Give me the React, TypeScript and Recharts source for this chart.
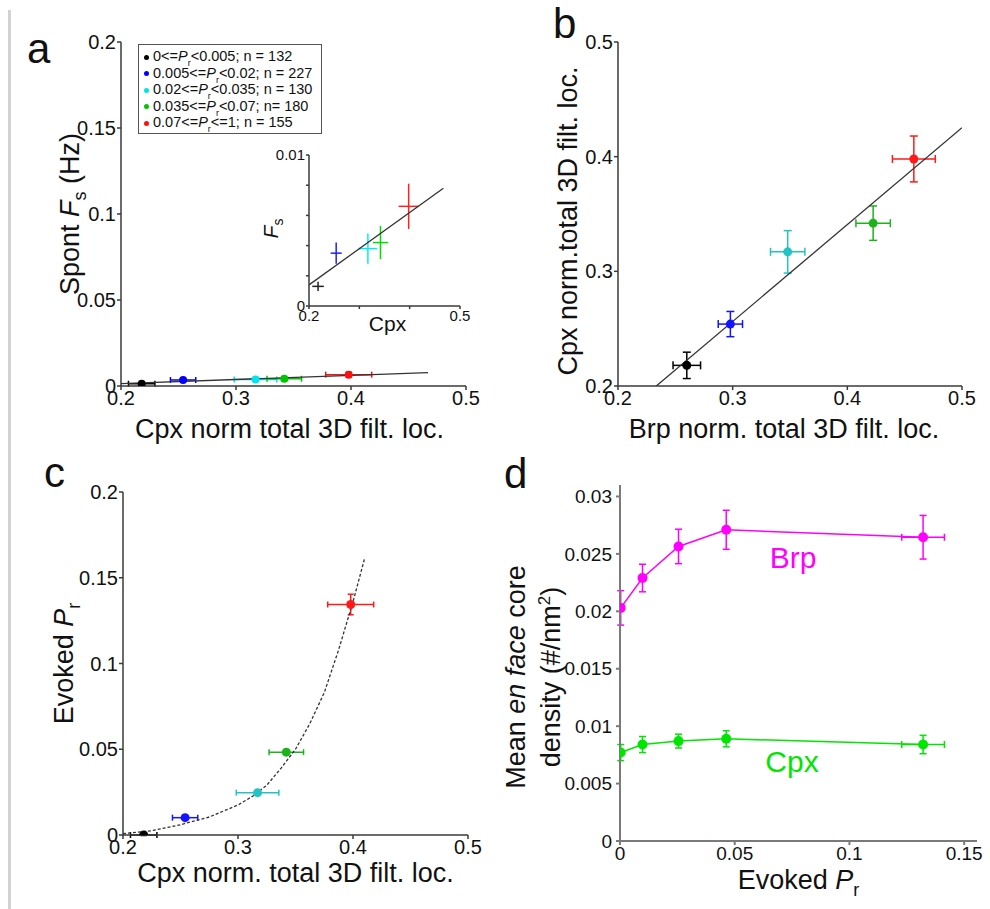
import React from 'react';
import { ScatterChart, Scatter, XAxis, YAxis, ErrorBar, Legend } from 'recharts';

const FONT = '"Liberation Sans", Arial, Helvetica, sans-serif';

// release-probability bins (legend of panel a): text before and after "Pr"
const binLabels = [
  ['0<=', '<0.005; n = 132'],
  ['0.005<=', '<0.02; n = 227'],
  ['0.02<=', '<0.035; n = 130'],
  ['0.035<=', '<0.07; n= 180'],
  ['0.07<=', '<=1; n = 155'],
];

// Cpx / Brp normalised total 3D filtered localisations, per bin
const cpxLoc = [0.218, 0.254, 0.317, 0.342, 0.398];
const cpxLocErr = [0.0115, 0.011, 0.0185, 0.015, 0.02];
const brpLoc = [0.26, 0.298, 0.348, 0.4225, 0.458];
const brpLocErr = [0.012, 0.0106, 0.015, 0.015, 0.0187];

// spontaneous frequency Fs (Hz) and evoked Pr, per bin
const spontFs = [0.0013, 0.0035, 0.0038, 0.0042, 0.0066];
const spontFsErr = [0.0003, 0.0007, 0.001, 0.0011, 0.0015];
const evokedPr = [0.0, 0.0101, 0.0247, 0.0483, 0.1344];
const evokedPrErr = [0.0003, 0.0008, 0.001, 0.0015, 0.006];

// fitted lines
const fsFitX = [0.2, 0.467];
const fsFitY = [0.0014, 0.0078];
const locFitX = [0.2334, 0.5];
const locFitY = [0.2, 0.4253];
const prFitX = [0.2, 0.225, 0.25, 0.275, 0.3, 0.3125, 0.325, 0.3375, 0.35, 0.3625, 0.375, 0.3875, 0.4, 0.41];
const prFitY = [0.0008, 0.0025, 0.006, 0.0105, 0.0175, 0.0225, 0.029, 0.039, 0.05, 0.065, 0.083, 0.108, 0.136, 0.161];

// panel d: en face core density vs evoked Pr
const prBins = [0.0003, 0.0098, 0.0255, 0.0463, 0.1321];
const prBinsErr = [0.0004, 0.0006, 0.0008, 0.001, 0.0093];
const brpDensity = [0.0203, 0.0229, 0.02565, 0.0271, 0.02645];
const brpDensityErr = [0.0015, 0.0012, 0.0015, 0.0017, 0.0019];
const cpxDensity = [0.0077, 0.0084, 0.0087, 0.0089, 0.0084];
const cpxDensityErr = [0.0007, 0.0007, 0.0006, 0.0007, 0.0008];

const colorsA = ['#000000', '#0000ff', '#00e4ec', '#00c400', '#ff1010'];
const colorsBC = ['#000000', '#1414ff', '#22c3c3', '#1db31d', '#ff1a1a'];
const colorsInset = ['#222222', '#2020ff', '#00eef2', '#00dd00', '#ff2020'];
const BRP = '#ff00ff';
const CPX = '#00e600';

const pts = (xs: number[], ys: number[], exs?: number[], eys?: number[]) =>
  xs.map((x, i) => ({ x, y: ys[i], ex: exs ? exs[i] : 0, ey: eys ? eys[i] : 0 }));

const dot = (r: number, fill: string) => (p: any) => <circle cx={p.cx} cy={p.cy} r={r} fill={fill} />;
const noDot = () => <g />;

const tick = (size: number) => ({ fontSize: size, fill: '#111', fontFamily: FONT });
const axisA = { stroke: '#3a3a3a', strokeWidth: 1.5 };
const axisD = { stroke: '#7a7a7a', strokeWidth: 2 };

const TITLE = 27;

// horizontal axis title, baseline dy below the axis
const xTitle = (dy: number, body: React.ReactNode, dx = 0) => (props: any) => {
  const vb = props.viewBox || {};
  return (
    <text x={vb.x + vb.width / 2 + dx} y={vb.y + dy} textAnchor="middle" fontSize={TITLE} fontFamily={FONT} fill="#111">
      {body}
    </text>
  );
};

// vertical axis title(s), baseline(s) at bx from the axis area left edge
const yTitle = (bx: number[], lines: React.ReactNode[], dy = 0, size = TITLE) => (props: any) => {
  const vb = props.viewBox || {};
  const cy = vb.y + vb.height / 2 + dy;
  return (
    <g>
      {lines.map((l, i) => {
        const x = vb.x + bx[i];
        return (
          <text key={i} x={x} y={cy} transform={`rotate(-90 ${x} ${cy})`} textAnchor="middle" fontSize={size} fontFamily={FONT} fill="#111">
            {l}
          </text>
        );
      })}
    </g>
  );
};

const LegendBox = () => (
  <div
    style={{
      border: '1.5px solid #555',
      background: '#fff',
      fontFamily: FONT,
      fontSize: 14.5,
      color: '#111',
      padding: '3px 0 3px 5px',
      boxSizing: 'border-box',
      height: 90,
    }}
  >
    {binLabels.map((b, i) => (
      <div key={i} style={{ height: 16.6, lineHeight: '16.6px', whiteSpace: 'nowrap' }}>
        <span style={{ display: 'inline-block', width: 5, height: 5, borderRadius: 3, background: colorsA[i], marginRight: 4, verticalAlign: 'middle' }} />
        {b[0]}
        <i>P</i>
        <span style={{ fontSize: 9, position: 'relative', top: 5 }}>r</span>
        {b[1]}
      </div>
    ))}
  </div>
);

const PanelA = () => (
  <div style={{ position: 'absolute', left: 0, top: 0 }}>
    <ScatterChart width={490} height={445} margin={{ top: 42, right: 24, bottom: 0, left: 0 }}>
      <XAxis type="number" dataKey="x" domain={[0.2, 0.5]} ticks={[0.2, 0.3, 0.4, 0.5]} allowDataOverflow interval={0}
        height={59} tick={tick(20)} tickSize={4} tickMargin={1} axisLine={axisA} tickLine={axisA}
        label={{ content: xTitle(52, 'Cpx norm total 3D filt. loc.', -4) }} />
      <YAxis type="number" dataKey="y" domain={[0, 0.2]} ticks={[0, 0.05, 0.1, 0.15, 0.2]} allowDataOverflow interval={0}
        width={121} tick={tick(20)} tickSize={4} tickMargin={1} axisLine={axisA} tickLine={axisA}
        label={{ content: yTitle([79], [<><tspan>Spont </tspan><tspan fontStyle="italic">F</tspan><tspan dy={7} fontSize={18}>s</tspan><tspan dy={-7}> (Hz)</tspan></>]) }} />
      <Scatter data={pts(fsFitX, fsFitY)} line={{ stroke: '#333', strokeWidth: 1.3 }} shape={noDot} isAnimationActive={false} />
      {cpxLoc.map((_, i) => (
        <Scatter key={i} data={[pts(cpxLoc, spontFs, cpxLocErr, spontFsErr)[i]]} shape={dot(4, colorsA[i])} isAnimationActive={false}>
          <ErrorBar dataKey="ex" direction="x" width={3} stroke={colorsA[i]} strokeWidth={1.5} />
          <ErrorBar dataKey="ey" direction="y" width={3} stroke={colorsA[i]} strokeWidth={1.5} />
        </Scatter>
      ))}
      <Legend layout="horizontal" verticalAlign="middle" align="center" wrapperStyle={{ left: 138, top: 44, width: 184, height: 90 }} content={() => <LegendBox />} />
    </ScatterChart>
  </div>
);

const InsetA = () => (
  <div style={{ position: 'absolute', left: 250, top: 135 }}>
    <ScatterChart width={230} height={211} margin={{ top: 20, right: 20, bottom: 0, left: 0 }}>
      <XAxis type="number" dataKey="x" domain={[0.2, 0.5]} ticks={[0.2, 0.3, 0.4, 0.5]} allowDataOverflow interval={0}
        height={40} tick={tick(15)} tickSize={3} tickMargin={1} axisLine={axisA} tickLine={axisA}
        tickFormatter={(v: number) => (v === 0.2 || v === 0.5 ? String(v) : '')}
        label={{ content: (p: any) => <text x={p.viewBox.x + p.viewBox.width / 2 + 3} y={p.viewBox.y + 25} textAnchor="middle" fontSize={21} fontFamily={FONT} fill="#111">Cpx</text> }} />
      <YAxis type="number" dataKey="y" domain={[0, 0.01]} ticks={[0, 0.002, 0.004, 0.006, 0.008, 0.01]} allowDataOverflow interval={0}
        width={59} tick={tick(15)} tickSize={3} tickMargin={1} axisLine={axisA} tickLine={axisA}
        tickFormatter={(v: number) => (v === 0 || v === 0.01 ? String(v) : '')}
        label={{ content: yTitle([28], [<><tspan fontStyle="italic">F</tspan><tspan dy={5} fontSize={14}>s</tspan></>], -2, 21) }} />
      <Scatter data={pts(fsFitX, fsFitY)} line={{ stroke: '#333', strokeWidth: 1.3 }} shape={noDot} isAnimationActive={false} />
      {cpxLoc.map((_, i) => (
        <Scatter key={i} data={[pts(cpxLoc, spontFs, cpxLocErr, spontFsErr)[i]]} shape={noDot} isAnimationActive={false}>
          <ErrorBar dataKey="ex" direction="x" width={0} stroke={colorsInset[i]} strokeWidth={1.5} />
          <ErrorBar dataKey="ey" direction="y" width={0} stroke={colorsInset[i]} strokeWidth={1.5} />
        </Scatter>
      ))}
    </ScatterChart>
  </div>
);

const PanelB = () => (
  <div style={{ position: 'absolute', left: 490, top: 0 }}>
    <ScatterChart width={500} height={445} margin={{ top: 42, right: 28, bottom: 0, left: 0 }}>
      <XAxis type="number" dataKey="x" domain={[0.2, 0.5]} ticks={[0.2, 0.3, 0.4, 0.5]} allowDataOverflow interval={0}
        height={59} tick={tick(20)} tickSize={4} tickMargin={1} axisLine={axisA} tickLine={axisA}
        label={{ content: xTitle(52, 'Brp norm. total 3D filt. loc.', -6) }} />
      <YAxis type="number" dataKey="y" domain={[0.2, 0.5]} ticks={[0.2, 0.3, 0.4, 0.5]} allowDataOverflow interval={0}
        width={128} tick={tick(20)} tickSize={4} tickMargin={1} axisLine={axisA} tickLine={axisA}
        label={{ content: yTitle([87], ['Cpx norm.total 3D filt. loc.'], 7) }} />
      <Scatter data={pts(locFitX, locFitY)} line={{ stroke: '#333', strokeWidth: 1.3 }} shape={noDot} isAnimationActive={false} />
      {brpLoc.map((_, i) => (
        <Scatter key={i} data={[pts(brpLoc, cpxLoc, brpLocErr, cpxLocErr)[i]]} shape={dot(4.5, colorsBC[i])} isAnimationActive={false}>
          <ErrorBar dataKey="ex" direction="x" width={4} stroke={colorsBC[i]} strokeWidth={1.5} />
          <ErrorBar dataKey="ey" direction="y" width={4} stroke={colorsBC[i]} strokeWidth={1.5} />
        </Scatter>
      ))}
    </ScatterChart>
  </div>
);

const PanelC = () => (
  <div style={{ position: 'absolute', left: 0, top: 445 }}>
    <ScatterChart width={490} height={464} margin={{ top: 47, right: 22, bottom: 0, left: 0 }}>
      <XAxis type="number" dataKey="x" domain={[0.2, 0.5]} ticks={[0.2, 0.3, 0.4, 0.5]} allowDataOverflow interval={0}
        height={74} tick={tick(20)} tickSize={4} tickMargin={1} axisLine={axisA} tickLine={axisA}
        label={{ content: xTitle(47, 'Cpx norm. total 3D filt. loc.') }} />
      <YAxis type="number" dataKey="y" domain={[0, 0.2]} ticks={[0, 0.05, 0.1, 0.15, 0.2]} allowDataOverflow interval={0}
        width={123} tick={tick(20)} tickSize={4} tickMargin={1} axisLine={axisA} tickLine={axisA}
        label={{ content: yTitle([73], [<><tspan>Evoked </tspan><tspan fontStyle="italic">P</tspan><tspan dy={7} fontSize={18}>r</tspan></>]) }} />
      <Scatter data={pts(prFitX, prFitY)} line={{ stroke: '#333', strokeWidth: 1.3, strokeDasharray: '3 2' }} shape={noDot} isAnimationActive={false} />
      {cpxLoc.map((_, i) => (
        <Scatter key={i} data={[pts(cpxLoc, evokedPr, cpxLocErr, evokedPrErr)[i]]} shape={dot(4.5, colorsBC[i])} isAnimationActive={false}>
          <ErrorBar dataKey="ex" direction="x" width={3} stroke={colorsBC[i]} strokeWidth={1.5} />
          <ErrorBar dataKey="ey" direction="y" width={3} stroke={colorsBC[i]} strokeWidth={1.5} />
        </Scatter>
      ))}
    </ScatterChart>
  </div>
);

const PanelD = () => (
  <div style={{ position: 'absolute', left: 490, top: 445 }}>
    <ScatterChart width={500} height={464} margin={{ top: 40, right: 13, bottom: 0, left: 0 }}>
      <XAxis type="number" dataKey="x" domain={[0, 0.1556]} ticks={[0, 0.05, 0.1, 0.15]} allowDataOverflow interval={0}
        height={68} tick={tick(19)} tickSize={4} tickMargin={2} axisLine={axisD} tickLine={axisD}
        label={{ content: xTitle(48, <><tspan>Evoked </tspan><tspan fontStyle="italic">P</tspan><tspan dy={7} fontSize={18}>r</tspan></>) }} />
      <YAxis type="number" dataKey="y" domain={[0, 0.031]} ticks={[0, 0.005, 0.01, 0.015, 0.02, 0.025, 0.03]} allowDataOverflow interval={0}
        width={130} tick={tick(19)} tickSize={4} tickMargin={4} axisLine={axisD} tickLine={axisD}
        label={{ content: yTitle([35, 70], [
          <><tspan>Mean </tspan><tspan fontStyle="italic">en face</tspan><tspan> core</tspan></>,
          <><tspan>density (#/nm</tspan><tspan dy={-10} fontSize={17}>2</tspan><tspan dy={10}>)</tspan></>,
        ], 14) }} />
      <Scatter data={pts(prBins, brpDensity, prBinsErr, brpDensityErr)} line={{ stroke: BRP, strokeWidth: 1.5 }} lineType="joint"
        shape={dot(5, BRP)} isAnimationActive={false}>
        <ErrorBar dataKey="ex" direction="x" width={3.5} stroke={BRP} strokeWidth={1.5} />
        <ErrorBar dataKey="ey" direction="y" width={3.5} stroke={BRP} strokeWidth={1.5} />
      </Scatter>
      <Scatter data={pts(prBins, cpxDensity, prBinsErr, cpxDensityErr)} line={{ stroke: CPX, strokeWidth: 1.5 }} lineType="joint"
        shape={dot(5, CPX)} isAnimationActive={false}>
        <ErrorBar dataKey="ex" direction="x" width={3.5} stroke={CPX} strokeWidth={1.5} />
        <ErrorBar dataKey="ey" direction="y" width={3.5} stroke={CPX} strokeWidth={1.5} />
      </Scatter>
    </ScatterChart>
  </div>
);

export default function App() {
  return (
    <div style={{ position: 'absolute', left: 0, top: 0, width: 990, height: 909, background: '#fff' }}>
      <PanelA />
      <InsetA />
      <PanelB />
      <PanelC />
      <PanelD />
      <svg width={990} height={909} style={{ position: 'absolute', left: 0, top: 0, pointerEvents: 'none' }}>
        <line x1={9.5} y1={10} x2={9.5} y2={909} stroke="#d2d2d2" strokeWidth={3} />
        <g fontFamily={FONT} fontSize={42} fill="#111">
          <text x={27} y={63}>a</text>
          <text x={553} y={38}>b</text>
          <text x={44} y={487}>c</text>
          <text x={504} y={488}>d</text>
        </g>
        <text x={793} y={568} textAnchor="middle" fontFamily={FONT} fontSize={30} fill={BRP}>Brp</text>
        <text x={792} y={772} textAnchor="middle" fontFamily={FONT} fontSize={30} fill={CPX}>Cpx</text>
      </svg>
    </div>
  );
}
